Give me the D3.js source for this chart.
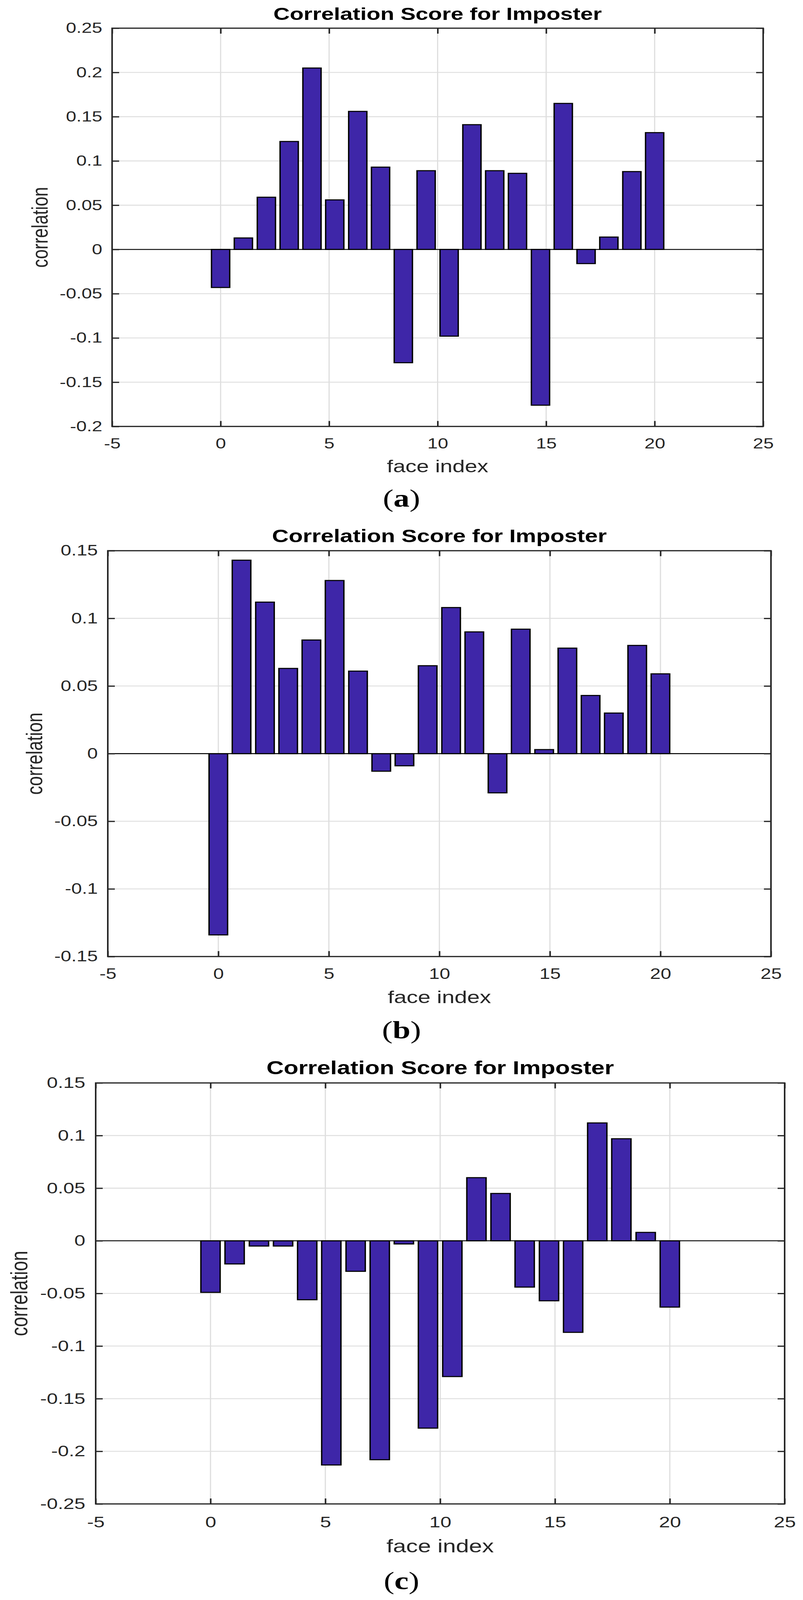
<!DOCTYPE html>
<html>
<head>
<meta charset="utf-8">
<script src="https://cdn.jsdelivr.net/npm/d3@7"></script>
<style>
  html, body { margin: 0; background: #fff; overflow: hidden; }
  svg { display: block; }
  .tick text { font-family: "Liberation Sans", Arial, Helvetica, sans-serif; fill: #262626; }
</style>
</head>
<body>
<svg></svg>
<script>
// bar positions along the x axis (20 faces spread over 0..20)
const faceIndex = [0, 1.05, 2.11, 3.16, 4.21, 5.26, 6.32, 7.37, 8.42, 9.47,
  10.53, 11.58, 12.63, 13.68, 14.74, 15.79, 16.84, 17.89, 18.95, 20];

const scoresA = [-0.043, 0.013, 0.059, 0.122, 0.205, 0.056, 0.156, 0.093, -0.128, 0.089,
  -0.098, 0.141, 0.089, 0.086, -0.176, 0.165, -0.016, 0.014, 0.088, 0.132];
const scoresB = [-0.134, 0.143, 0.112, 0.063, 0.084, 0.128, 0.061, -0.013, -0.009, 0.065,
  0.108, 0.090, -0.029, 0.092, 0.003, 0.078, 0.043, 0.030, 0.080, 0.059];
const scoresC = [-0.049, -0.022, -0.005, -0.005, -0.056, -0.213, -0.029, -0.208, -0.003, -0.178,
  -0.129, 0.060, 0.045, -0.044, -0.057, -0.087, 0.112, 0.097, 0.008, -0.063];

const xTicks = [-5, 0, 5, 10, 15, 20, 25];
const yTicksA = [-0.2, -0.15, -0.1, -0.05, 0, 0.05, 0.1, 0.15, 0.2, 0.25];
const yTicksB = [-0.15, -0.1, -0.05, 0, 0.05, 0.1, 0.15];
const yTicksC = [-0.25, -0.2, -0.15, -0.1, -0.05, 0, 0.05, 0.1, 0.15];

const titleText = 'Correlation Score for Imposter';
const xLabelText = 'face index';
const yLabelText = 'correlation';
const panelLetters = ['a', 'b', 'c'];

// figure is laid out on a 2056 x 5279 sheet, then fitted to whatever window we get
const pageW = 2056, pageH = 5279;

// where each sub figure sits on the sheet, k = font scale
const panels = [
  {scores: scoresA, yTicks: yTicksA, letter: panelLetters[0], left: 287, right: 1954, top: 93, bottom: 1407, k: 1},
  {scores: scoresB, yTicks: yTicksB, letter: panelLetters[1], left: 276, right: 1974, top: 1817, bottom: 3156, k: 1.019},
  {scores: scoresC, yTicks: yTicksC, letter: panelLetters[2], left: 245, right: 2009, top: 3573, bottom: 4962, k: 1.058},
];

const svg = d3.select('svg')
  .attr('width', window.innerWidth || pageW)
  .attr('height', window.innerHeight || pageH)
  .attr('viewBox', `0 0 ${pageW} ${pageH}`)
  .attr('preserveAspectRatio', 'none');

svg.append('rect').attr('width', pageW).attr('height', pageH).attr('fill', '#fff');

const fmt = d => String(Math.round(d * 100) / 100);
const barWidthUnits = 0.84;
const tickLen = 18;
const axisColor = '#262626';

panels.forEach(p => {
  const k = p.k;
  const x = d3.scaleLinear().domain([-5, 25]).range([p.left, p.right]);
  const y = d3.scaleLinear().domain(d3.extent(p.yTicks)).range([p.bottom, p.top]);
  const g = svg.append('g');

  // grid
  g.append('g').selectAll('line').data(xTicks.slice(1, -1)).enter().append('line')
    .attr('x1', d => x(d)).attr('x2', d => x(d))
    .attr('y1', p.top).attr('y2', p.bottom)
    .attr('stroke', '#dedede').attr('stroke-width', 3);
  g.append('g').selectAll('line').data(p.yTicks.slice(1, -1)).enter().append('line')
    .attr('x1', p.left).attr('x2', p.right)
    .attr('y1', d => y(d)).attr('y2', d => y(d))
    .attr('stroke', '#dedede').attr('stroke-width', 3);

  // bars
  const bw = x(barWidthUnits) - x(0);
  g.append('g').selectAll('rect').data(p.scores).enter().append('rect')
    .attr('x', (d, i) => x(faceIndex[i]) - bw / 2)
    .attr('width', bw)
    .attr('y', d => y(Math.max(d, 0)))
    .attr('height', d => Math.abs(y(d) - y(0)))
    .attr('fill', '#3e26a8')
    .attr('stroke', '#000')
    .attr('stroke-width', 3.5);

  // baseline
  g.append('line')
    .attr('x1', p.left).attr('x2', p.right)
    .attr('y1', y(0)).attr('y2', y(0))
    .attr('stroke', '#000').attr('stroke-width', 3);

  // axes, ticks pointing inwards
  const fs = 48 * k;
  const bottomAxis = g.append('g').attr('transform', `translate(0,${p.bottom})`)
    .call(d3.axisBottom(x).tickValues(xTicks).tickFormat(fmt).tickSize(-tickLen).tickSizeOuter(0).tickPadding(73 * k - 0.71 * fs));
  const leftAxis = g.append('g').attr('transform', `translate(${p.left},0)`)
    .call(d3.axisLeft(y).tickValues(p.yTicks).tickFormat(fmt).tickSize(-tickLen).tickSizeOuter(0).tickPadding(25 * k));
  const topAxis = g.append('g').attr('transform', `translate(0,${p.top})`)
    .call(d3.axisTop(x).tickValues(xTicks).tickFormat('').tickSize(-tickLen).tickSizeOuter(0));
  const rightAxis = g.append('g').attr('transform', `translate(${p.right},0)`)
    .call(d3.axisRight(y).tickValues(p.yTicks).tickFormat('').tickSize(-tickLen).tickSizeOuter(0));

  [bottomAxis, leftAxis, topAxis, rightAxis].forEach(a => {
    a.select('.domain').remove();
    a.selectAll('.tick line').attr('stroke', axisColor).attr('stroke-width', 4);
    a.selectAll('.tick text').attr('font-size', fs);
  });

  // box
  g.append('rect')
    .attr('x', p.left).attr('y', p.top)
    .attr('width', p.right - p.left).attr('height', p.bottom - p.top)
    .attr('fill', 'none').attr('stroke', axisColor).attr('stroke-width', 4);

  const midX = (p.left + p.right) / 2;
  const midY = (p.top + p.bottom) / 2;

  g.append('text')
    .attr('x', midX).attr('y', p.top - 27 * k)
    .attr('text-anchor', 'middle')
    .attr('font-family', '"Liberation Sans", Arial, Helvetica, sans-serif')
    .attr('font-weight', 'bold').attr('font-size', 58 * k)
    .attr('fill', '#000')
    .text(titleText);

  g.append('text')
    .attr('x', midX).attr('y', p.bottom + 151 * k)
    .attr('text-anchor', 'middle')
    .attr('font-family', '"Liberation Sans", Arial, Helvetica, sans-serif')
    .attr('font-size', 57 * k)
    .attr('fill', axisColor)
    .text(xLabelText);

  g.append('text')
    .attr('transform', `translate(${p.left - 165 * k},${midY}) rotate(-90)`)
    .attr('text-anchor', 'middle')
    .attr('font-family', '"Liberation Sans", Arial, Helvetica, sans-serif')
    .attr('font-size', 57 * k)
    .attr('fill', axisColor)
    .text(yLabelText);

  // (a) (b) (c)
  const lt = g.append('text')
    .attr('x', 1028).attr('y', p.bottom + 265 * k)
    .attr('text-anchor', 'middle')
    .attr('font-family', '"Liberation Serif", "Times New Roman", serif')
    .attr('font-size', 82)
    .attr('fill', '#000');
  lt.append('tspan').text('(');
  lt.append('tspan').attr('font-weight', 'bold').text(p.letter);
  lt.append('tspan').text(')');
});
</script>
</body>
</html>
